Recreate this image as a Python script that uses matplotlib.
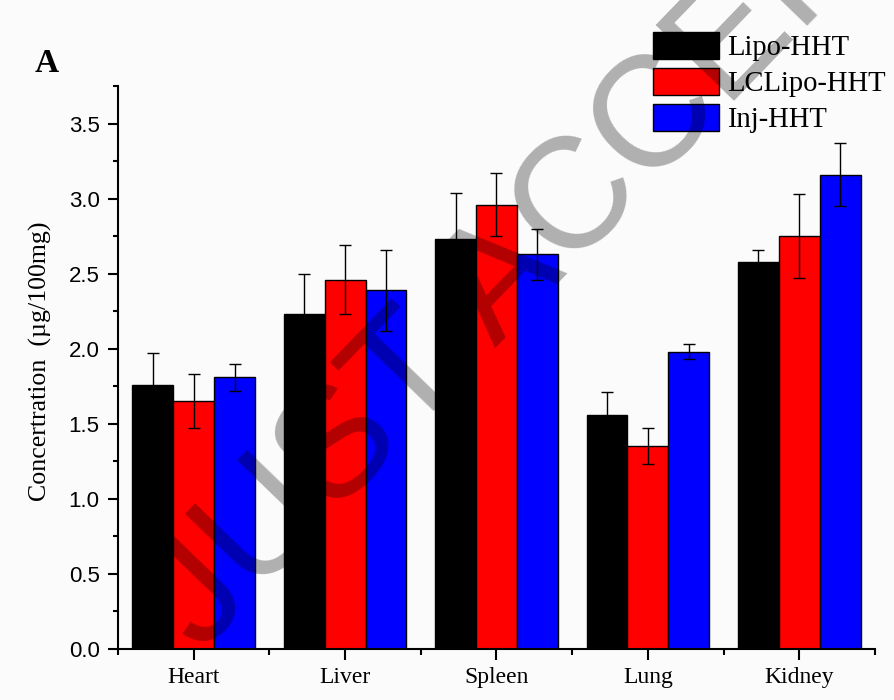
import numpy as np
import matplotlib
matplotlib.use("Agg")
import matplotlib.pyplot as plt
from matplotlib.ticker import MultipleLocator, FixedLocator

# Data
organs = ['Heart', 'Liver', 'Spleen', 'Lung', 'Kidney']
groups = ['Lipo-HHT', 'LCLipo-HHT', 'Inj-HHT']
colors = ['#000000', '#ff0000', '#0000ff']

lipo_mean = [1.76, 2.23, 2.73, 1.56, 2.58]
lipo_err = [0.21, 0.27, 0.31, 0.15, 0.08]
lclipo_mean = [1.65, 2.46, 2.96, 1.35, 2.75]
lclipo_err = [0.18, 0.23, 0.21, 0.12, 0.28]
inj_mean = [1.81, 2.39, 2.63, 1.98, 3.16]
inj_err = [0.09, 0.27, 0.17, 0.05, 0.21]

means = [lipo_mean, lclipo_mean, inj_mean]
errs = [lipo_err, lclipo_err, inj_err]

serif = 'Liberation Serif'
sans = 'Liberation Sans'

fig = plt.figure(figsize=(8.95, 7.0), dpi=100, facecolor='#fbfbfb')
ax = fig.add_axes([118 / 895, 51 / 700, 757 / 895, 563 / 700])
ax.set_facecolor('#fbfbfb')

x = np.arange(len(organs))
width = 0.27
for i in range(3):
    ax.bar(x + (i - 1) * width, means[i], width, color=colors[i],
           edgecolor='black', linewidth=1.0, label=groups[i], zorder=2)
    ax.errorbar(x + (i - 1) * width, means[i], yerr=errs[i], fmt='none',
                ecolor='black', elinewidth=1.0, capsize=4.3, capthick=1.0, zorder=3)

ax.set_xlim(-0.5, 4.5)
ax.set_ylim(0, 3.75)

for s in ['top', 'right']:
    ax.spines[s].set_visible(False)
for s in ['left', 'bottom']:
    ax.spines[s].set_linewidth(1.5)

ax.set_xticks(x)
ax.set_xticklabels(organs, fontfamily=serif, fontsize=17)
ax.xaxis.set_minor_locator(FixedLocator(np.arange(-0.5, 4.6, 1.0)))
ax.yaxis.set_minor_locator(MultipleLocator(0.25))
yt = np.arange(0, 3.51, 0.5)
ax.set_yticks(yt)
ax.set_yticklabels([f'{v:.1f}' for v in yt], fontfamily=sans, fontsize=16)

ax.tick_params(axis='x', which='major', direction='out', length=8, width=1.5, pad=5)
ax.tick_params(axis='x', which='minor', direction='out', length=4.3, width=1.5)
ax.tick_params(axis='y', which='major', direction='out', length=7.2, width=1.5, pad=6)
ax.tick_params(axis='y', which='minor', direction='out', length=3.6, width=1.5)

ax.set_ylabel('Concertration  (\u00b5g/100mg)', fontfamily=serif, fontsize=18.6)
ax.yaxis.set_label_coords(-0.087, 0.511)

ax.legend(loc='upper left', bbox_to_anchor=(653 / 895, 1 - 32 / 700),
          bbox_transform=fig.transFigure, frameon=False, borderpad=0,
          borderaxespad=0, prop={'family': serif, 'size': 20.6},
          handlelength=2.3, handleheight=1.1, handletextpad=0.28,
          labelspacing=0.22)

fig.text(35 / 895, 1 - 72 / 700, 'A', fontfamily=serif, fontweight='bold',
         fontsize=24, ha='left', va='baseline')

# watermark
fig.text(0.688, 0.764, 'JUST ACCEPTED', fontfamily=sans, fontsize=113,
         color='black', alpha=0.3, rotation=46, rotation_mode='anchor',
         ha='center', va='center', zorder=10)

fig.savefig('out.png', dpi=100, facecolor=fig.get_facecolor())
